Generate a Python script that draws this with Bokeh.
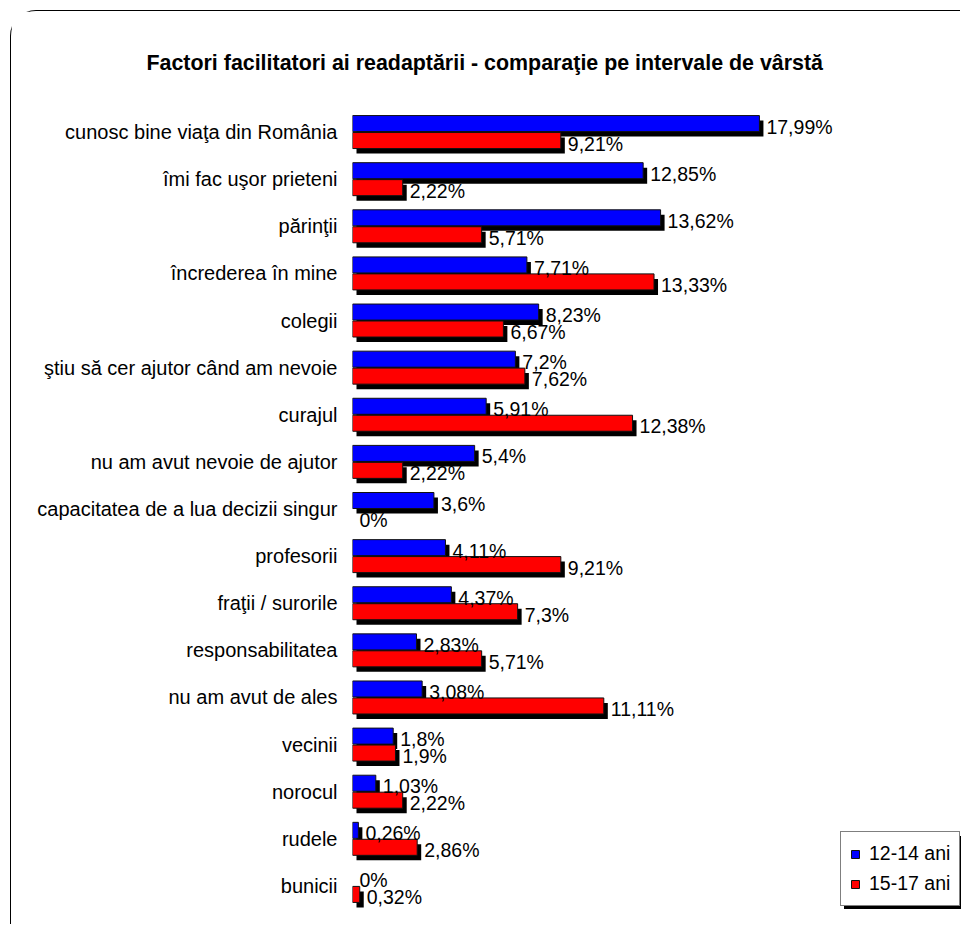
from bokeh.plotting import figure
from bokeh.models import ColumnDataSource, FactorRange, Range1d, Legend, LegendItem
from bokeh.transform import dodge
from bokeh.embed import file_html
from bokeh.resources import INLINE
from bokeh.core.properties import value

# ---------------- data ----------------
title_text = "Factori facilitatori ai readaptării - comparaţie pe intervale de vârstă"
categories = [
    "cunosc bine viaţa din România",
    "îmi fac uşor prieteni",
    "părinţii",
    "încrederea în mine",
    "colegii",
    "ştiu să cer ajutor când am nevoie",
    "curajul",
    "nu am avut nevoie de ajutor",
    "capacitatea de a lua decizii singur",
    "profesorii",
    "fraţii / surorile",
    "responsabilitatea",
    "nu am avut de ales",
    "vecinii",
    "norocul",
    "rudele",
    "bunicii",
]
ani_12_14 = [17.99, 12.85, 13.62, 7.71, 8.23, 7.2, 5.91, 5.4, 3.6, 4.11, 4.37, 2.83, 3.08, 1.8, 1.03, 0.26, 0]
ani_15_17 = [9.21, 2.22, 5.71, 13.33, 6.67, 7.62, 12.38, 2.22, 0, 9.21, 7.3, 5.71, 11.11, 1.9, 2.22, 2.86, 0.32]
series_names = ["12-14 ani", "15-17 ani"]

# ---------------- layout ----------------
W, H = 950, 914
MB_LEFT, MB_RIGHT, MB_TOP, MB_BOTTOM = 341, 0, 97, 16
PX_PER_UNIT = 22.62
x_end = (W - MB_LEFT - MB_RIGHT) / PX_PER_UNIT
row_px = (H - MB_TOP - MB_BOTTOM) / len(categories)

dx = 4 / PX_PER_UNIT     # shadow offset (right)
dy = 5 / row_px          # shadow offset (down)
OFF = 0.18
BAR_H = 0.34

FONT = "Liberation Sans"


def fmt(v):
    return f"{v:g}".replace(".", ",") + "%"


src = ColumnDataSource(dict(
    cat=categories,
    a=ani_12_14,
    b=ani_15_17,
    a_sl=[dx] * len(categories),
    a_sr=[v + dx for v in ani_12_14],
    b_sr=[v + dx for v in ani_15_17],
    la=[fmt(v) for v in ani_12_14],
    lb=[fmt(v) for v in ani_15_17],
    a_lc=["#111111" if v > 0 else None for v in ani_12_14],
    b_lc=["#111111" if v > 0 else None for v in ani_15_17],
    a_sc=["black" if v > 0 else None for v in ani_12_14],
    b_sc=["black" if v > 0 else None for v in ani_15_17],
))

p = figure(
    width=W, height=H,
    y_range=FactorRange(factors=categories[::-1]),
    x_range=Range1d(0, x_end),
    output_backend="svg", toolbar_location=None,
    min_border_left=MB_LEFT, min_border_right=MB_RIGHT,
    min_border_top=MB_TOP, min_border_bottom=MB_BOTTOM,
    margin=(10, 0, 0, 10),
)
p.styles = {
    "border-left": "1px solid #000",
    "border-top": "1px solid #000",
    "border-top-left-radius": "26px",
}

# title
p.title.text = title_text
p.title.align = "left"
p.title.offset = -206
p.title.standoff = 68
p.title.text_font = FONT
p.title.text_font_style = "bold"
p.title.text_font_size = "21.4px"
p.title.text_color = "black"

# shadows
p.hbar(y=dodge("cat", OFF - dy, range=p.y_range), left="a_sl", right="a_sr", height=BAR_H,
       source=src, fill_color="a_sc", line_color=None)
p.hbar(y=dodge("cat", -OFF - dy, range=p.y_range), left="a_sl", right="b_sr", height=BAR_H,
       source=src, fill_color="b_sc", line_color=None)

# bars
rb = p.hbar(y=dodge("cat", OFF, range=p.y_range), left=0, right="a", height=BAR_H,
            source=src, fill_color="#0000ff", line_color="a_lc", line_width=1)
rr = p.hbar(y=dodge("cat", -OFF, range=p.y_range), left=0, right="b", height=BAR_H,
            source=src, fill_color="#ff0000", line_color="b_lc", line_width=1)

# value labels
p.text(x="a", y=dodge("cat", OFF, range=p.y_range), text="la", source=src,
       x_offset=7, y_offset=3, text_baseline="middle", text_align="left",
       text_font=value(FONT), text_font_size="19.5px", text_color="black")
p.text(x="b", y=dodge("cat", -OFF, range=p.y_range), text="lb", source=src,
       x_offset=7, y_offset=3, text_baseline="middle", text_align="left",
       text_font=value(FONT), text_font_size="19.5px", text_color="black")

# axes
p.xaxis.visible = False
p.yaxis.axis_line_color = None
p.yaxis.major_tick_line_color = None
p.yaxis.minor_tick_line_color = None
p.yaxis.major_tick_out = 0
p.yaxis.major_tick_in = 0
p.yaxis.major_label_standoff = 15
p.yaxis.major_label_text_font = FONT
p.yaxis.major_label_text_font_size = "20px"
p.yaxis.major_label_text_color = "black"
p.grid.visible = False
p.outline_line_color = None

# legend (with shadow)
common = dict(glyph_width=10, glyph_height=10, label_standoff=9, padding=9, spacing=5,
              label_height=25, label_text_font=FONT, label_text_font_size="19.5px",
              border_line_width=1, click_policy="none")
items = [LegendItem(label=series_names[0], renderers=[rb]),
         LegendItem(label=series_names[1], renderers=[rr])]
leg = Legend(items=items, location=(488, 3), background_fill_color="white",
             background_fill_alpha=1, border_line_color="black",
             label_text_color="black", **common)
# shadow box behind the legend (blank labels, same size)
items_sh = [LegendItem(label=" ", renderers=[rb]),
            LegendItem(label=" ", renderers=[rr])]
leg_sh = Legend(items=items_sh, location=(492, -2), background_fill_color="black",
                background_fill_alpha=1, border_line_color="black",
                label_text_color="black", label_width=82, **common)
p.add_layout(leg_sh)
p.add_layout(leg)

open("out.html", "w").write(file_html(p, INLINE))
